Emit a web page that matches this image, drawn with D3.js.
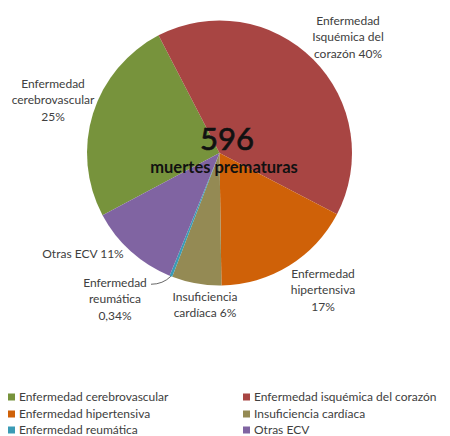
<!DOCTYPE html>
<html>
<head>
<meta charset="utf-8">
<script src="https://cdn.jsdelivr.net/npm/d3@7/dist/d3.min.js"></script>
<style>
  html, body { margin: 0; padding: 0; background: #fff; }
  svg { display: block; font-family: Lato, "Open Sans", sans-serif; }
</style>
</head>
<body>
<svg id="chart" width="450" height="436"></svg>
<script>
const categories = ["Enfermedad cerebrovascular", "Enfermedad isquémica del corazón", "Enfermedad hipertensiva", "Insuficiencia cardíaca", "Enfermedad reumática", "Otras ECV"];
const values = [25, 40, 17, 6, 0.34, 11];
const colors = ["#77933C", "#A84543", "#CF6108", "#948A54", "#3A9BB5", "#8064A2"];
const sliceLabels = [
  ["Enfermedad", "cerebrovascular", "25%"],
  ["Enfermedad", "Isquémica del", "corazón 40%"],
  ["Enfermedad", "hipertensiva", "17%"],
  ["Insuficiencia", "cardíaca 6%"],
  ["Enfermedad", "reumática", "0,34%"],
  ["Otras ECV 11%"]
];
const centerNumber = "596";
const centerText = "muertes prematuras";

const svg = d3.select("#chart");
const cx = 219.5, cy = 153, r = 132.5;
const start = -118 * Math.PI / 180;

const pie = d3.pie().sort(null).value(d => d).startAngle(start).endAngle(start + 2 * Math.PI);
const arcs = pie(values);
const arc = d3.arc().innerRadius(0).outerRadius(r);

const g = svg.append("g").attr("transform", `translate(${cx},${cy})`);
g.selectAll("path").data(arcs).enter().append("path")
  .attr("d", arc)
  .attr("fill", (d, i) => colors[i]);

const labelCenters = [
  [53, 100], [348, 37], [323, 290], [205, 305], [115, 299], [83, 254]
];
sliceLabels.forEach((lines, i) => {
  const [lx, ly] = labelCenters[i];
  const n = lines.length;
  const t = svg.append("text")
    .attr("text-anchor", "middle")
    .attr("font-size", 12)
    .attr("fill", "#404040");
  lines.forEach((s, j) => {
    t.append("tspan").attr("x", lx).attr("y", ly + (j - (n - 1) / 2) * 16.5 + 4).text(s);
  });
});

// leader line for reumática
{
  const a = arcs[4];
  const mid = (a.startAngle + a.endAngle) / 2;
  const px = cx + Math.sin(mid) * r, py = cy - Math.cos(mid) * r;
  svg.append("path")
    .attr("d", `M${px},${py} Q${px - 8},${py + 8} ${151},${py + 8}`)
    .attr("fill", "none").attr("stroke", "#404040").attr("stroke-width", 0.8);
}

// center text
svg.append("text").attr("x", 227).attr("y", 150).attr("text-anchor", "middle")
  .attr("font-size", 31).attr("fill", "#111").attr("stroke", "#111").attr("stroke-width", 0.7)
  .text(centerNumber);
svg.append("text").attr("x", 224).attr("y", 173).attr("text-anchor", "middle")
  .attr("font-size", 16.5).attr("font-weight", "bold").attr("fill", "#111").text(centerText);

// legend
const legendX = [8, 243];
const legendY = [397, 414, 430];
categories.forEach((c, i) => {
  const col = i % 2, row = Math.floor(i / 2);
  const lg = svg.append("g").attr("transform", `translate(${legendX[col]},${legendY[row]})`);
  lg.append("rect").attr("x", 0).attr("y", -3.5).attr("width", 7).attr("height", 7).attr("fill", colors[i]);
  lg.append("text").attr("x", 11).attr("y", 4).attr("font-size", 12).attr("fill", "#404040").text(c);
});
</script>
</body>
</html>
